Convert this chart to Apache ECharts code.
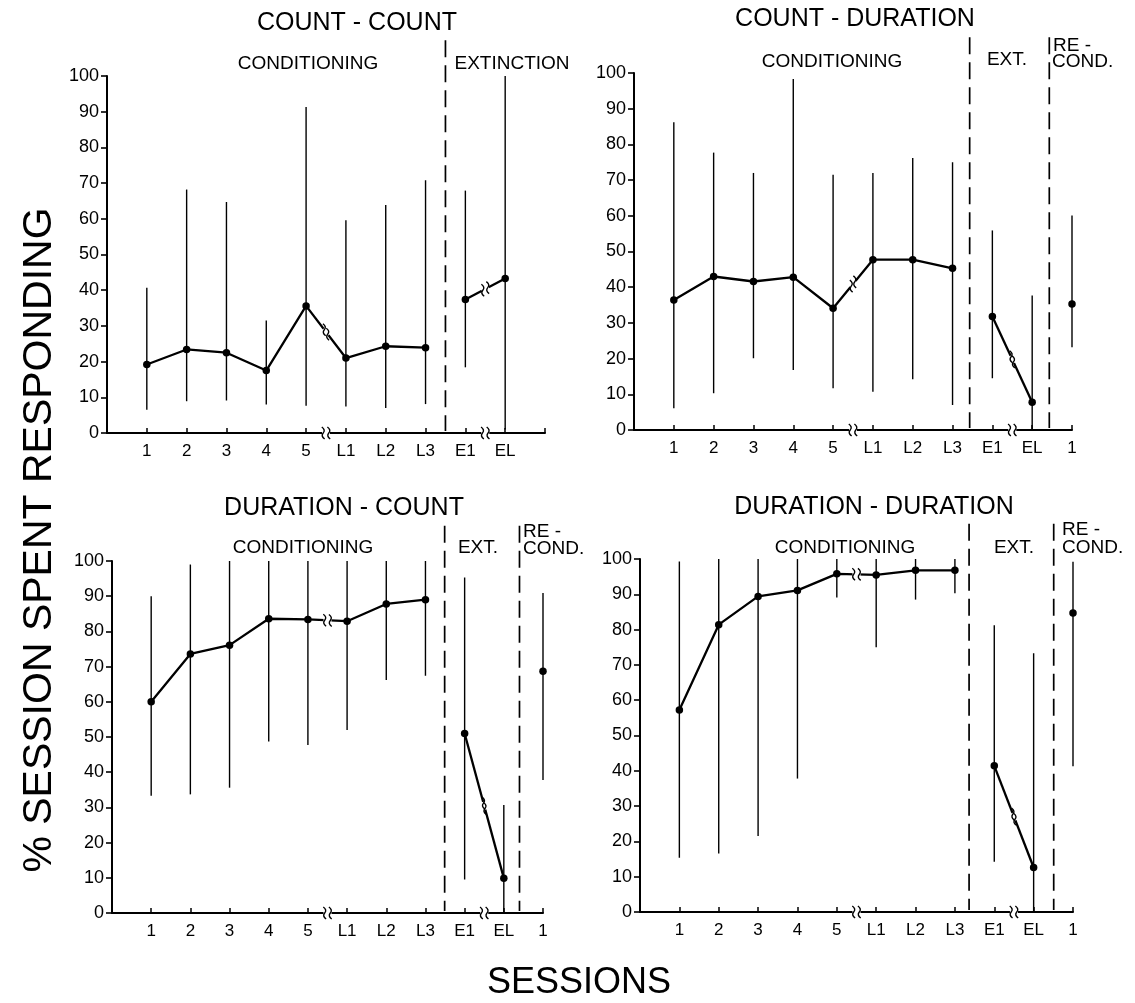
<!DOCTYPE html>
<html><head><meta charset="utf-8">
<script src="https://cdn.jsdelivr.net/npm/echarts@6/dist/echarts.min.js"></script>
<style>html,body{margin:0;padding:0;background:#fff}#c{width:1135px;height:1003px}</style>
</head><body><div id="c"></div>
<script>
// ---------- data ----------
const sessionLabels = ['1','2','3','4','5','L1','L2','L3','E1','EL','1'];
const panelTitles = ['COUNT - COUNT','COUNT - DURATION','DURATION - COUNT','DURATION - DURATION'];
const yTickInterval = 10;

// COUNT - COUNT (no re-conditioning)
const ccMean = [19.2, 23.4, 22.5, 17.5, 35.6, 21.0, 24.3, 23.9, 37.4, 43.3];
const ccHigh = [40.7, 68.2, 64.7, 31.5, 91.3, 59.6, 63.9, 70.8, 67.9, 100];
const ccLow  = [6.5, 8.9, 9.1, 8.0, 7.6, 7.4, 7.0, 8.1, 18.4, 1.0];

// COUNT - DURATION
const cdMean = [36.4, 43.0, 41.6, 42.8, 34.1, 47.7, 47.7, 45.3, 31.8, 7.8, 35.3];
const cdHigh = [86.2, 77.7, 72.0, 98.3, 71.5, 72.0, 76.2, 75.0, 55.9, 37.7, 60.1];
const cdLow  = [6.1, 10.3, 20.1, 16.8, 11.7, 10.7, 14.2, 7.0, 14.5, 0, 23.2];

// DURATION - COUNT
const dcMean = [60.0, 73.6, 76.1, 83.6, 83.4, 82.9, 87.8, 89.0, 51.0, 9.9, 68.7];
const dcHigh = [90.0, 99.0, 100, 100, 100, 100, 100, 100, 95.3, 30.7, 90.9];
const dcLow  = [33.3, 33.7, 35.6, 48.7, 47.7, 52.0, 66.2, 67.4, 9.5, 0, 37.8];

// DURATION - DURATION
const ddMean = [57.2, 81.4, 89.4, 91.1, 95.8, 95.5, 96.8, 96.8, 41.4, 12.6, 84.7];
const ddHigh = [99.3, 100, 100, 100, 100, 100, 100, 100, 81.2, 73.3, 99.2];
const ddLow  = [15.4, 16.6, 21.5, 37.8, 89.1, 75.0, 88.5, 90.3, 14.2, 0, 41.3];

// phases: index ranges joined by a line (inclusive)
const lineSegments = [[0, 7], [8, 9], [10, 10]];
// pairs of sessions whose connecting line carries a break mark
const breakPairs = [[4, 5], [8, 9]];
// axis break positions (in session units)
const axisBreaks = [5.5, 9.5];
// phase separators (in session units)
const separators = [[8.5], [8.43, 10.43], [8.49, 10.4], [8.36, 10.51]];

const panels = [
  {mean: ccMean, high: ccHigh, low: ccLow},
  {mean: cdMean, high: cdHigh, low: cdLow},
  {mean: dcMean, high: dcHigh, low: dcLow},
  {mean: ddMean, high: ddHigh, low: ddLow}
];

// ---------- layout ----------
const FONT = '"Liberation Sans", Arial, Helvetica, sans-serif';
const grids = [
  {left: 107, top: 76, width: 438, height: 357},
  {left: 634, top: 73, width: 438, height: 357},
  {left: 112, top: 561, width: 431, height: 352},
  {left: 640, top: 559, width: 433, height: 353}
];

const chart = echarts.init(document.getElementById('c'), null, {renderer: 'canvas'});

const option = {
  animation: false,
  backgroundColor: '#fff',
  grid: grids.map(g => Object.assign({containLabel: false, outerBoundsMode: 'none'}, g)),
  xAxis: grids.map((g, k) => ({
    type: 'value', gridIndex: k, min: 0, max: 11, interval: 1,
    axisLine: {show: true, onZero: false, lineStyle: {color: '#000', width: 2}},
    axisTick: {show: true, inside: true, length: 5, lineStyle: {color: '#000', width: 1.5}},
    splitLine: {show: false},
    axisLabel: {
      color: '#000', fontSize: 17, fontFamily: FONT, margin: 10,
      formatter: v => (v >= 1 && v <= panels[k].mean.length) ? sessionLabels[v - 1] : ''
    }
  })),
  yAxis: grids.map((g, k) => ({
    type: 'value', gridIndex: k, min: 0, max: 100, interval: yTickInterval,
    axisLine: {show: true, lineStyle: {color: '#000', width: 2}},
    axisTick: {show: true, length: 6, lineStyle: {color: '#000', width: 1.6}},
    splitLine: {show: false},
    axisLabel: {color: '#000', fontSize: 18, fontFamily: FONT, margin: 8}
  })),
  series: [],
  graphic: []
};

// S-shaped break mark path centred on (cx, cy)
function squiggle(cx, cy) {
  return 'M' + (cx - 1.4) + ' ' + (cy - 6) +
    ' Q' + (cx + 2.6) + ' ' + (cy - 3) + ' ' + cx + ' ' + cy +
    ' Q' + (cx - 2.6) + ' ' + (cy + 3) + ' ' + (cx + 1.4) + ' ' + (cy + 6);
}
function breakGroup(ax, ay, bx, by) {
  const mx = (ax + bx) / 2, my = (ay + by) / 2;
  let dx = bx - ax, dy = by - ay; const len = Math.hypot(dx, dy) || 1;
  dx /= len; dy /= len;
  return {
    type: 'group',
    children: [
      {type: 'line', shape: {x1: mx - 4 * dx, y1: my - 4 * dy, x2: mx + 4 * dx, y2: my + 4 * dy},
       style: {stroke: '#fff', lineWidth: 5}},
      {type: 'path', shape: {pathData: squiggle(mx - 2.8 * dx, my - 2.8 * dy)},
       style: {stroke: '#000', fill: null, lineWidth: 1.4}},
      {type: 'path', shape: {pathData: squiggle(mx + 2.8 * dx, my + 2.8 * dy)},
       style: {stroke: '#000', fill: null, lineWidth: 1.4}}
    ]
  };
}

panels.forEach((p, k) => {
  // range bars
  option.series.push({
    type: 'custom', xAxisIndex: k, yAxisIndex: k, clip: false, z: 2,
    data: p.mean.map((m, i) => [i + 1, p.low[i], p.high[i]]),
    encode: {x: 0, y: [1, 2]},
    renderItem: (params, api) => {
      const a = api.coord([api.value(0), api.value(1)]);
      const b = api.coord([api.value(0), api.value(2)]);
      return {type: 'line', shape: {x1: a[0], y1: a[1], x2: b[0], y2: b[1]},
              style: {stroke: '#000', lineWidth: 1.4}};
    }
  });
  // mean lines per phase
  lineSegments.forEach(([s, e]) => {
    if (s >= p.mean.length) return;
    const data = [];
    for (let i = s; i <= Math.min(e, p.mean.length - 1); i++) data.push([i + 1, p.mean[i]]);
    option.series.push({
      type: 'line', xAxisIndex: k, yAxisIndex: k, z: 3, data: data,
      symbol: 'circle', symbolSize: 7.5, showSymbol: true,
      lineStyle: {color: '#000', width: 2.3}, itemStyle: {color: '#000'}
    });
  });
  // line break marks
  option.series.push({
    type: 'custom', xAxisIndex: k, yAxisIndex: k, clip: false, z: 4,
    data: breakPairs.filter(([i, j]) => j < p.mean.length)
      .map(([i, j]) => [i + 1, p.mean[i], j + 1, p.mean[j]]),
    renderItem: (params, api) => {
      const a = api.coord([api.value(0), api.value(1)]);
      const b = api.coord([api.value(2), api.value(3)]);
      return breakGroup(a[0], a[1], b[0], b[1]);
    }
  });
  // axis break marks
  option.series.push({
    type: 'custom', xAxisIndex: k, yAxisIndex: k, clip: false, z: 4,
    data: axisBreaks.map(x => [x, 0]),
    renderItem: (params, api) => {
      const c = api.coord([api.value(0), api.value(1)]);
      return breakGroup(c[0] - 1, c[1], c[0] + 1, c[1]);
    }
  });
  // dashed phase separators
  option.series.push({
    type: 'custom', xAxisIndex: k, yAxisIndex: k, clip: false, z: 2,
    data: separators[k].map(x => [x]),
    encode: {x: 0},
    renderItem: (params, api) => {
      const a = api.coord([api.value(0), 110]);
      const b = api.coord([api.value(0), 0]);
      return {type: 'line', shape: {x1: a[0], y1: a[1], x2: b[0], y2: b[1] - 2},
              style: {stroke: '#000', lineWidth: 1.7, lineDash: [17, 8]}};
    }
  });
});

// ---------- texts ----------
function txt(x, y, text, size, align, extra) {
  return Object.assign({
    type: 'text', x: x, y: y, z: 10,
    style: {text: text, font: size + 'px ' + FONT, fill: '#000',
            textAlign: align || 'center', textVerticalAlign: 'middle'}
  }, extra || {});
}
option.graphic = [
  txt(357, 23, panelTitles[0], 25),
  txt(308, 64, 'CONDITIONING', 19),
  txt(512, 64, 'EXTINCTION', 19),

  txt(855, 19, panelTitles[1], 25),
  txt(832, 62, 'CONDITIONING', 19),
  txt(1007, 60, 'EXT.', 19),
  txt(1053, 46, 'RE -', 19, 'left'),
  txt(1052, 62, 'COND.', 19, 'left'),

  txt(344, 508, panelTitles[2], 25),
  txt(303, 548, 'CONDITIONING', 19),
  txt(478, 548, 'EXT.', 19),
  txt(523, 532, 'RE -', 19, 'left'),
  txt(523, 549, 'COND.', 19, 'left'),

  txt(874, 507, panelTitles[3], 25),
  txt(845, 548, 'CONDITIONING', 19),
  txt(1014, 548, 'EXT.', 19),
  txt(1062, 530, 'RE -', 19, 'left'),
  txt(1062, 548, 'COND.', 19, 'left'),

  txt(40, 540, '% SESSION SPENT RESPONDING', 41, 'center', {rotation: Math.PI / 2}),
  txt(579, 983, 'SESSIONS', 36)
];

chart.setOption(option);
</script>
</body></html>
